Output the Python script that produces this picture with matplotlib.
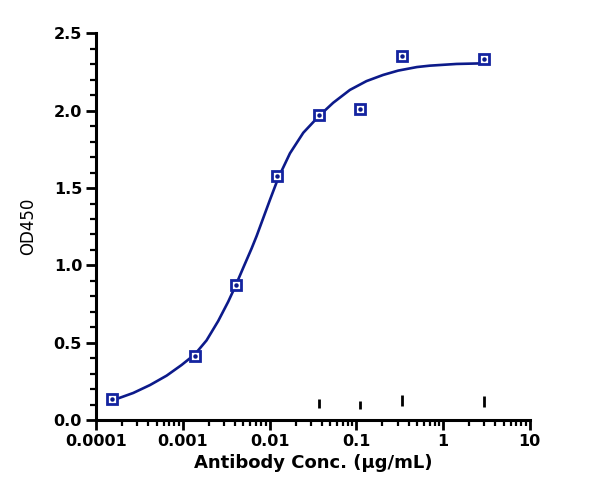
import numpy as np
import matplotlib
matplotlib.use("Agg")
import matplotlib.pyplot as plt
from matplotlib.ticker import LogLocator, MultipleLocator, FixedLocator

# measured points (3-fold dilution series)
conc = [0.000152, 0.00137, 0.00412, 0.0123, 0.037, 0.111, 0.333, 3.0]
od450 = [0.138, 0.416, 0.873, 1.58, 1.972, 2.012, 2.352, 2.336]

# fitted curve
fit_conc = [0.000152, 0.000269, 0.000419, 0.000652, 0.00097, 0.00138, 0.00188,
            0.00256, 0.00334, 0.0040, 0.00498, 0.00622, 0.0071, 0.0101, 0.0126,
            0.0172, 0.0245, 0.0374, 0.0542, 0.0844, 0.131, 0.204, 0.304, 0.5,
            0.705, 1.43, 2.9]
fit_od = [0.125, 0.175, 0.226, 0.287, 0.356, 0.425, 0.515, 0.64, 0.765, 0.860,
          0.985, 1.11, 1.19, 1.423, 1.565, 1.725, 1.858, 1.968, 2.052, 2.135,
          2.192, 2.232, 2.26, 2.283, 2.292, 2.303, 2.307]

# short marks near the bottom
mark_x = [0.037, 0.111, 0.333, 3.0]
mark_lo = [0.08, 0.07, 0.09, 0.086]
mark_hi = [0.138, 0.125, 0.16, 0.155]

blue = "#1424a0"
navy = "#0c1a8a"

plt.rcParams["font.family"] = "DejaVu Sans"
plt.rcParams["font.weight"] = "bold"

fig = plt.figure(figsize=(6, 5), dpi=100)
ax = fig.add_axes([0.16, 0.16, 0.723, 0.773])

ax.plot(fit_conc, fit_od, color=navy, lw=1.9, zorder=2, solid_joinstyle="round")
ax.plot(conc, od450, "s", ms=7.8, mfc="white", mec=blue, mew=2.0, zorder=3)
ax.plot(conc, od450, "o", ms=2.2, color=navy, zorder=4)
ax.vlines(mark_x, mark_lo, mark_hi, color="black", lw=2)

ax.set_xscale("log")
ax.set_xlim(0.0001, 10)
ax.set_ylim(0, 2.5)
ax.xaxis.set_major_locator(FixedLocator([0.0001, 0.001, 0.01, 0.1, 1, 10]))
ax.set_xticklabels(["0.0001", "0.001", "0.01", "0.1", "1", "10"])
ax.xaxis.set_minor_locator(LogLocator(base=10, subs=np.arange(2, 10), numticks=20))
ax.yaxis.set_major_locator(MultipleLocator(0.5))
ax.yaxis.set_minor_locator(MultipleLocator(0.1))
ax.yaxis.set_major_formatter(matplotlib.ticker.FormatStrFormatter("%.1f"))

for s in ["top", "right"]:
    ax.spines[s].set_visible(False)
for s in ["left", "bottom"]:
    ax.spines[s].set_linewidth(2.2)

ax.tick_params(which="major", length=7, width=2, labelsize=11.5, pad=3)
ax.tick_params(which="minor", length=4, width=1.6)

ax.set_xlabel("Antibody Conc. (μg/mL)", fontsize=13, fontweight="bold", labelpad=4)
ax.set_ylabel("OD450", fontsize=12, fontweight="normal", labelpad=12)

fig.savefig("out.png", dpi=100)
